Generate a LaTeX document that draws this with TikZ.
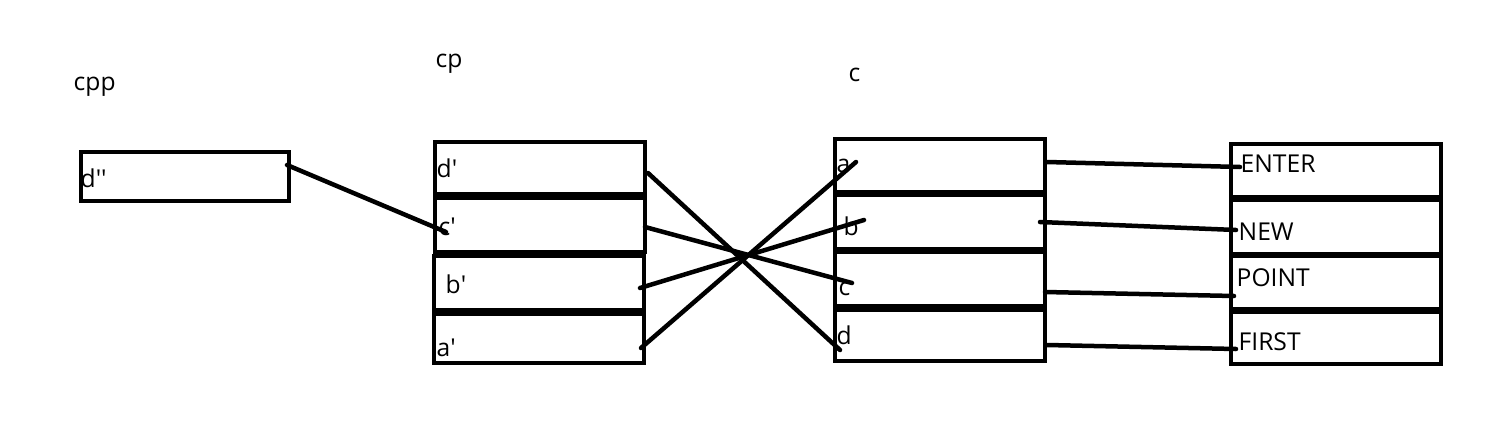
\documentclass[tikz,border=0pt]{standalone}
\usepackage{fontspec}
\setmainfont{Open Sans}

\tikzset{
  cell/.style={draw, line width=0.04cm, minimum width=2.1cm, inner sep=0pt},
  tag/.style={anchor=base west, inner sep=0pt, font=\fontsize{7}{8}\selectfont},
  link/.style={line width=0.045cm, line cap=round}
}
\newcommand{\pr}{\textquotesingle}

\begin{document}
\begin{tikzpicture}[x=0.01cm, y=-0.01cm]
  \useasboundingbox (0,0) rectangle (1493,433);

  % Titles
  \node[tag] (tcpp) at (73,90) {cpp};
  \node[tag] (tcp)  at (435,67) {cp};
  \node[tag] (tc)   at (848,81) {c};

  % cpp box
  \node[cell, minimum width=2.08cm, minimum height=0.49cm] (cpp) at (185,176.5) {};

  % cp boxes
  \node[cell, minimum height=0.52cm] (cp1) at (540,168) {};
  \node[cell, minimum height=0.54cm] (cp2) at (540,225) {};
  \node[cell, minimum height=0.54cm] (cp3) at (539,283) {};
  \node[cell, minimum height=0.49cm] (cp4) at (539,338.5) {};

  % c boxes
  \node[cell, minimum height=0.53cm] (c1) at (940,165.5) {};
  \node[cell, minimum height=0.54cm] (c2) at (940,222) {};
  \node[cell, minimum height=0.54cm] (c3) at (940,279) {};
  \node[cell, minimum height=0.51cm] (c4) at (940,335.5) {};

  % string boxes
  \node[cell, minimum height=0.53cm] (s1) at (1336,170.5) {};
  \node[cell, minimum height=0.54cm] (s2) at (1336,227) {};
  \node[cell, minimum height=0.53cm] (s3) at (1336,282.5) {};
  \node[cell, minimum height=0.52cm] (s4) at (1336,338) {};

  % Labels inside boxes
  \node[tag] (ldd) at (80,187)  {d\pr\pr};
  \node[tag, fill=white] (ld1) at (436,177) {d\pr};
  \node[tag] (lc1) at (438,235) {c\pr};
  \node[tag] (lb1) at (445,293) {b\pr};
  \node[tag] (la1) at (436,356) {a\pr};
  \node[tag] (la)  at (836,172) {a};
  \node[tag] (lb)  at (843,235) {b};
  \node[tag] (lc)  at (838,295) {c};
  \node[tag] (ld)  at (836,344) {d};
  \node[tag] (lenter) at (1240,172) {ENTER};
  \node[tag] (lnew)   at (1238,240) {NEW};
  \node[tag] (lpoint) at (1236,286) {POINT};
  \node[tag] (lfirst) at (1238,350) {FIRST};

  % Link ends
  \coordinate (pdd) at (287,165);
  \coordinate (pc1in) at (446,232);
  \coordinate (pd1) at (648,173);
  \coordinate (pc1) at (645,227);
  \coordinate (pb1) at (640,288);
  \coordinate (pa1) at (641,348);
  \coordinate (pa) at (856,162);
  \coordinate (pb) at (864,220);
  \coordinate (pc) at (852,283);
  \coordinate (pd) at (840,350);
  \coordinate (pao) at (1047,162);
  \coordinate (pbo) at (1040,222);
  \coordinate (pco) at (1045,292);
  \coordinate (pdo) at (1047,345);
  \coordinate (penter) at (1240,167);
  \coordinate (pnew) at (1236,230);
  \coordinate (ppoint) at (1234,296);
  \coordinate (pfirst) at (1236,349);

  % cpp to cp
  \draw[link] (pdd) -- (pc1in);

  % cp to c (crossed)
  \draw[link] (pd1) -- (pd);
  \draw[link] (pc1) -- (pc);
  \draw[link] (pb1) -- (pb);
  \draw[link] (pa1) -- (pa);

  % c to strings
  \draw[link] (pao) -- (penter);
  \draw[link] (pbo) -- (pnew);
  \draw[link] (pco) -- (ppoint);
  \draw[link] (pdo) -- (pfirst);

\end{tikzpicture}
\end{document}
